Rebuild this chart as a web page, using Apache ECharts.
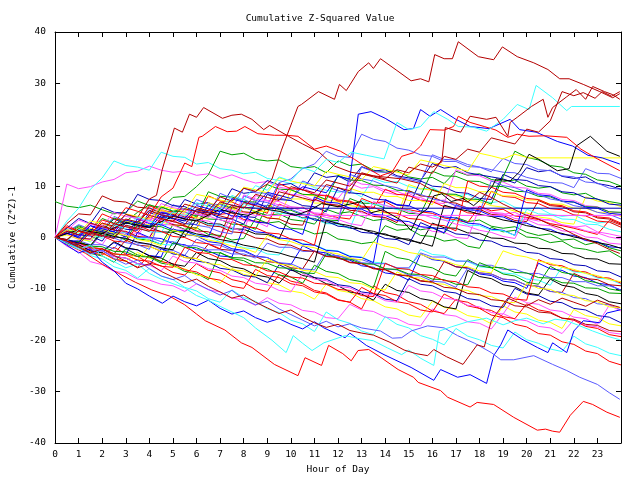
<!DOCTYPE html>
<html><head><meta charset="utf-8">
<script src="https://cdn.jsdelivr.net/npm/echarts/dist/echarts.min.js"></script>
<style>html,body{margin:0;padding:0;background:#fff}#c{width:640px;height:480px}</style>
</head><body><div id="c"></div>
<script>
// ---- axis ticks ----
const hourTicks = [0,1,2,3,4,5,6,7,8,9,10,11,12,13,14,15,16,17,18,19,20,21,22,23];
const valueTicks = [-40,-30,-20,-10,0,10,20,30,40];

// ---- series sampled every half hour (0 .. 24 h) ----
const f01 = [7,6.1,5.8,6.3,5.4,4.6,4.9,7.1,6.2,5.9,5.1,5.6,4.4,4.0,6.6,5.7,5.9,5.0,4.3,4.6,3.5,3.2,2.6,5.5,4.7,5.0,4.1,3.3,3.6,2.5,2.3,1.5,1.9,0.8,3.9,3.1,3.4,2.2,1.8,2.1,1.0,0.4,0.7,-0.5,-0.3,-1.4,-0.9,-2.0,-2.6];
const f02 = [0,10.4,9.5,9.9,10.8,11.3,12.6,12.9,13.9,13.1,12.7,12.9,12.1,12.4,11.5,12.2,11.3,10.6,10.9,9.8,9.4,9.7,8.5,8.2,7.6,10.5,9.6,9.9,8.8,8.3,8.6,7.4,7.0,7.3,6.1,5.7,6.0,4.8,4.5,4.9,3.7,3.2,3.6,2.4,2.0,2.3,1.1,0.7,0.2];
const f03 = [0,3.2,5.7,9.4,11.6,14.9,14.0,13.7,13.1,16.6,15.8,15.6,14.3,14.6,13.4,13.1,12.4,12.7,11.5,11.1,10.5,10.8,9.7,9.2,8.8,9.1,7.9,11.5,10.7,10.9,9.9,9.4,9.7,8.5,8.1,8.4,7.2,6.8,7.1,5.9,5.5,5.8,4.6,4.1,4.4,3.3,2.8,3.1,2.0];
const f04 = [0,1.1,2.3,1.4,3.7,2.8,3.1,4.9,6.4,5.5,7.8,8.0,9.9,12.2,16.8,16.1,16.4,15.2,14.9,15.1,13.8,13.5,13.8,12.6,14.9,14.0,14.3,13.1,12.7,13.0,11.8,11.4,11.7,10.5,12.9,12.1,12.4,11.3,10.9,11.2,10.0,9.6,9.9,8.7,8.3,8.6,7.4,7.0,6.6];
const f05 = [0,-0.8,1.9,1.0,1.3,3.6,2.7,3.0,5.3,4.4,4.1,7.4,6.5,6.8,5.6,9.5,8.6,8.9,11.1,10.2,10.5,9.2,12.6,11.7,12.0,10.8,13.8,12.9,13.2,12.0,11.6,11.1,14.4,13.5,13.8,12.6,12.2,11.8,11.4,10.6,13.6,12.8,13.1,11.9,11.5,11.8,10.5,10.1,9.4];
const f08 = [0,1.4,0.5,0.8,2.8,1.9,2.2,0.9,4.0,3.1,3.4,2.1,1.8,5.4,4.5,4.8,3.5,3.2,2.8,6.5,5.6,5.9,4.6,4.3,3.9,3.6,7.6,6.7,7.0,5.7,5.4,5.0,4.7,3.8,3.4,2.9,6.1,5.2,5.5,4.2,3.9,3.5,2.7,2.3,1.8,1.2,0.6,3.3,2.4];
const f09 = [0,-0.7,-0.9,-1.7,1.6,0.7,1.0,-0.3,-0.5,-1.3,2.5,1.6,1.9,0.6,0.4,-0.5,-0.2,3.7,2.8,3.1,1.8,1.6,0.7,1.0,-0.3,-0.6,-1.2,-0.9,2.3,1.4,1.7,0.4,0.2,-0.7,-0.4,-1.7,-2.1,2.0,1.1,1.4,0.1,-0.1,-1.0,-0.7,-2.0,-2.3,-2.9,-2.6,-3.9];
const f10 = [0,-0.9,-1.2,-2.3,-2.6,-1.0,-2.1,-2.4,-3.5,-3.8,1.7,0.6,0.3,-0.8,-1.1,-2.2,-2.5,-3.6,-3.9,-5.0,-5.3,-1.6,-2.7,-3.0,-4.1,-4.4,-5.5,-5.8,-6.9,-7.2,-8.3,-3.2,-4.3,-4.6,-5.7,-6.0,-7.1,-7.4,-8.5,-8.8,-9.9,-5.0,-6.1,-6.4,-7.5,-7.8,-8.9,-9.2,-10.3];
const f11 = [0,1.1,2.5,1.6,1.5,4.1,3.2,3.1,5.8,4.9,4.8,3.9,7.4,6.5,6.4,5.5,9.6,8.7,8.6,7.7,7.2,11.0,10.1,10.0,9.1,8.6,13.7,12.8,12.7,11.8,11.3,10.8,16.1,15.2,15.1,14.2,13.7,13.2,12.7,12.6,11.7,11.2,10.7,10.6,9.7,13.4,12.5,12.4,11.5];
const f12 = [0,-0.6,-0.7,1.8,1.0,1.1,0.2,0.3,-0.6,3.1,2.3,2.4,1.5,6.8,6.0,5.6,4.9,4.7,3.9,3.6,9.2,8.4,8.1,7.3,7.0,6.2,5.9,5.1,4.8,4.0,10.3,9.5,9.2,8.4,8.1,7.3,7.0,6.2,5.9,5.1,4.8,4.0,3.7,2.9,2.6,7.9,7.1,6.8,6.0];
const f13 = [0,-1.7,-2.8,-4.7,-5.3,-6.6,-6.9,-8.1,-8.3,-9.1,-9.4,-10.5,-9.0,-10.2,-10.6,-11.8,-12.1,-13.2,-11.7,-12.8,-13.1,-14.2,-14.5,-15.6,-15.8,-13.0,-14.1,-14.4,-15.5,-15.8,-16.9,-17.2,-13.9,-15.0,-15.3,-16.4,-16.7,-17.8,-14.8,-15.9,-16.2,-17.3,-17.6,-18.7,-16.0,-17.1,-17.4,-18.5,-18.8];
const f14 = [0,0.7,0.1,-0.9,2.1,1.1,0.9,-0.1,-0.3,-1.3,-1.5,1.4,0.4,0.2,-0.8,-1.0,-2.0,-2.2,-3.2,-3.4,-0.2,-1.2,-1.4,-2.4,-2.6,-3.6,-3.8,-4.8,-5.0,-6.0,-6.2,-2.3,-3.3,-3.5,-4.5,-4.7,-5.7,-5.9,-6.9,-7.1,-8.1,-8.3,-9.3,-5.7,-6.7,-6.9,-7.9,-8.1,-9.1];
const f15 = [0,-0.8,-1.0,-2.0,-2.2,-3.2,-0.5,-1.5,-1.7,-2.7,-2.9,-3.9,-4.1,-1.3,-2.3,-2.5,-3.5,-3.7,-4.7,-4.9,-5.9,-6.1,-2.6,-3.6,-3.8,-4.8,-5.0,-6.0,-6.2,-7.2,-7.4,-8.4,-8.6,-4.7,-5.7,-5.9,-6.9,-7.1,-8.1,-8.3,-9.3,-9.5,-10.5,-10.7,-7.0,-8.0,-8.2,-9.2,-9.4];
const f16 = [0,-0.7,1.8,0.9,0.8,-0.1,3.0,2.1,2.0,1.1,1.0,0.1,3.6,2.7,2.6,1.7,1.6,0.7,0.6,-0.3,4.7,3.8,3.7,2.8,2.7,1.8,1.7,0.8,0.7,-0.2,-0.3,-1.2,2.8,1.9,1.8,0.9,0.8,-0.1,-0.2,-1.1,-1.2,-2.1,-2.2,-3.1,-3.2,-4.1,-4.2,-5.1,-5.2];
const f17 = [0,-1.1,-1.6,-2.9,-3.4,-1.9,-3.2,-3.7,-5.0,-5.5,-6.8,-7.3,-5.1,-6.4,-6.9,-8.2,-8.7,-10.0,-10.5,-7.2,-8.5,-9.0,-10.3,-10.8,-12.1,-12.6,-13.9,-9.4,-10.7,-11.2,-12.5,-13.0,-14.3,-14.8,-12.0,-13.3,-13.8,-15.1,-15.6,-16.9,-17.4,-18.7,-19.0,-20.3,-20.8,-22.1,-22.6,-24.1,-24.8];
const f18 = [0,-0.8,-1.0,-2.0,1.1,0.1,-0.1,-1.1,-1.3,-2.3,-2.5,-3.5,-0.3,-1.3,-1.5,-2.5,-2.7,-3.7,-3.9,-4.9,-5.1,-6.1,-6.3,-2.7,-3.7,-3.9,-4.9,-5.1,-6.1,-6.3,-7.3,-7.5,-8.5,-8.7,-9.7,-5.9,-6.9,-7.1,-8.1,-8.3,-9.3,-9.5,-10.5,-10.7,-11.7,-11.9,-12.9,-13.1,-14.1];
const f19 = [0,-1.2,-1.8,-3.1,-3.6,-4.8,-2.2,-3.4,-3.8,-5.0,-5.4,-6.6,-7.0,-8.2,-2.9,-4.1,-4.5,-5.7,-6.1,-7.3,-7.7,-8.9,-5.4,-6.6,-7.0,-8.2,-8.6,-9.8,-2.7,-3.9,-4.3,-5.5,-5.9,-7.1,-7.5,-4.3,-5.5,-5.9,-7.1,-7.5,-8.7,-9.1,-5.6,-6.8,-7.2,-8.4,-8.8,-10.0,-10.4];
const f20 = [0,-1.0,-1.4,-2.6,-3.0,-4.2,-4.6,-2.9,-4.1,-4.5,-5.7,-6.1,-7.3,-7.7,-8.9,-6.0,-7.2,-7.6,-8.8,-9.2,-10.4,-10.8,-12.0,-9.1,-10.3,-10.7,-11.9,-12.3,-13.5,-13.9,-15.1,-15.5,-12.4,-13.6,-14.0,-15.2,-15.6,-16.8,-13.3,-14.5,-14.9,-16.1,-16.5,-17.7,-14.0,-15.2,-15.6,-16.8,-17.2];
const f21 = [0,1.5,0.5,0.3,-0.7,2.6,1.6,1.4,4.9,3.9,3.7,2.7,2.5,6.3,5.3,5.1,4.1,3.9,8.4,7.4,7.2,6.2,6.0,5.0,9.7,8.7,8.5,7.5,7.3,6.3,6.1,11.0,10.0,9.8,8.8,8.6,7.6,7.4,12.3,11.3,11.1,10.1,9.9,8.9,8.7,7.7,7.5,6.5,6.3];
const f22 = [0,0.8,-0.2,-0.4,-1.4,2.0,1.0,0.8,-0.2,5.6,4.6,4.4,3.4,3.2,2.2,2.0,1.0,8.2,7.2,7.0,6.0,5.8,4.8,4.6,3.6,11.4,10.4,10.2,9.2,9.0,8.0,7.8,6.8,6.6,13.2,12.2,12.0,11.0,10.8,9.8,9.6,8.6,8.4,7.4,7.2,6.2,6.0,5.0,4.8];
const f23 = [0,2.3,1.3,1.1,4.6,3.6,3.4,2.4,6.2,5.2,5.0,4.0,3.8,8.1,7.1,6.9,5.9,5.7,4.7,10.5,9.5,9.3,8.3,8.1,7.1,6.9,5.9,5.7,9.4,8.4,8.2,7.2,7.0,6.0,5.8,4.8,4.6,9.0,8.0,7.8,6.8,6.6,5.6,5.4,4.4,4.2,3.2,3.0,2.0];
const f24 = [0,-1.3,-2.0,-3.5,-4.2,-5.7,-6.4,-7.9,-6.0,-7.5,-8.2,-9.7,-10.4,-11.9,-12.6,-10.2,-11.7,-12.4,-13.9,-14.6,-16.1,-16.8,-18.3,-14.5,-16.0,-16.7,-18.2,-18.9,-15.4,-16.9,-17.6,-19.1,-19.8,-20.9,-17.7,-19.2,-19.9,-21.0,-21.5,-18.4,-19.9,-20.6,-21.7,-22.2,-19.2,-20.7,-21.4,-22.5,-23.0];
const f25 = [0,0.7,2.1,1.2,1.1,3.8,2.9,2.8,1.9,6.0,5.1,5.0,4.1,8.9,8.0,7.9,7.0,6.9,10.3,9.4,9.3,8.4,8.3,7.4,12.1,11.2,11.1,10.2,10.1,9.2,9.1,8.2,12.9,12.0,11.9,11.0,10.9,10.0,9.9,9.0,8.9,8.0,7.9,7.0,6.9,6.0,5.9,5.0,4.9];
const f26 = [0,-0.7,-0.8,1.4,0.5,0.4,-0.5,3.1,2.2,2.1,1.2,1.1,4.5,3.6,3.5,2.6,2.5,1.6,6.3,5.4,5.3,4.4,4.3,3.4,3.3,7.6,6.7,6.6,5.7,5.6,4.7,4.6,9.4,8.5,8.4,7.5,7.4,6.5,11.8,16.8,15.6,15.1,14.0,13.7,12.6,12.3,11.2,10.9,10.0];
const f27 = [0,-0.9,-1.2,-2.3,-2.6,-3.7,-4.0,-5.1,-5.4,-2.1,-3.2,-3.5,-4.6,-4.9,-6.0,-6.3,-7.4,-7.7,-8.8,-5.3,-6.4,-6.7,-7.8,-8.1,-9.2,-9.5,-10.6,-10.9,-12.0,-12.3,-8.0,-9.1,-9.4,-10.5,-10.8,-11.9,-12.2,-13.3,-13.6,-9.9,-11.0,-11.3,-12.4,-12.7,-13.8,-14.1,-15.2,-15.5,-16.6];
const f28 = [0,1.2,0.2,2.9,1.9,1.7,4.5,3.5,3.3,2.3,6.4,5.4,5.2,4.2,8.6,7.6,7.4,6.4,6.2,10.7,11.4,13.4,14.3,16.8,15.8,15.6,20.1,19.1,18.7,17.4,17.0,16.1,15.8,14.8,14.8,13.8,13.7,12.8,15.4,14.4,14.2,13.2,13.0,12.0,11.8,10.8,10.6,9.6,9.4];
const f30 = [0,0.6,-0.4,2.7,1.7,1.5,0.5,0.3,3.6,2.6,2.4,1.4,1.2,0.2,0.0,4.3,3.3,3.1,2.1,9.4,8.4,8.2,7.2,7.0,6.0,5.8,4.8,4.6,3.6,3.4,2.4,2.2,1.2,1.0,0.0,-0.2,5.9,4.9,4.7,3.7,3.5,2.5,2.3,1.3,1.1,0.1,-0.1,-1.1,-1.3];
const f31 = [0,-0.5,1.9,1.1,1.1,0.3,3.3,2.5,2.5,5.4,4.6,4.6,3.8,3.8,6.7,5.9,5.9,5.1,5.1,8.3,7.5,7.5,6.7,6.7,5.9,9.6,8.8,8.8,8.0,8.0,7.2,7.2,6.4,10.5,9.7,9.7,8.9,8.9,8.1,8.1,7.3,7.3,6.5,6.5,5.7,5.7,4.9,4.9,4.1];
const f32 = [0,-0.7,-1.3,-2.6,-3.0,-4.2,-4.6,-5.8,-3.5,-4.7,-5.1,-6.3,-6.7,-7.9,-8.3,-9.5,-9.9,-6.2,-7.4,-7.8,-9.0,-9.4,-10.6,-11.0,-12.2,-12.6,-9.7,-10.9,-11.3,-12.5,-12.9,-14.1,-14.5,-11.0,-12.2,-12.6,-13.8,-14.2,-15.4,-15.8,-12.9,-14.1,-14.5,-15.7,-16.1,-17.3,-17.7,-18.9,-19.3];
const f33 = [0,0.9,-0.1,-0.3,2.4,1.4,1.2,0.2,0.0,3.5,2.5,2.3,1.3,1.1,0.1,6.0,5.0,4.8,3.8,3.6,2.6,2.4,7.5,6.5,6.3,5.3,5.1,4.1,3.9,2.9,9.1,8.1,7.9,6.9,6.7,5.7,5.5,4.5,4.3,3.3,3.1,7.2,6.2,6.0,5.0,4.8,3.8,3.6,2.6];
const f34 = [0,-0.8,-1.0,-2.0,-2.2,-3.2,-3.4,1.0,0.0,-0.2,-1.2,-1.4,-2.4,-2.6,-3.6,-3.8,2.1,1.1,0.9,-0.1,-0.3,-1.3,-1.5,-2.5,-2.7,-3.7,-3.9,-4.9,7.4,6.4,6.2,5.2,5.0,4.0,3.8,2.8,2.6,1.6,1.4,0.4,9.3,8.3,8.1,7.1,6.9,5.9,5.7,4.7,4.5];
const f35 = [0,-0.6,-0.6,-1.4,-1.4,-2.2,0.8,0.0,0.0,-0.8,-0.8,-1.6,-1.6,-2.4,-2.4,-3.2,-3.2,-4.0,-1.1,-1.9,-1.9,-2.7,-2.7,-3.5,-3.5,-4.3,-4.3,-5.1,-5.1,-5.9,-5.9,-3.0,-3.8,-3.8,-4.6,-4.6,-5.4,-5.4,-6.2,-6.2,-7.0,-7.0,-7.8,-7.8,-8.6,-8.6,-9.4,-9.4,-10.2];
const f36 = [0,1.7,0.8,0.7,-0.2,3.0,2.1,2.0,1.1,1.0,4.4,3.5,3.4,2.5,2.4,1.5,6.6,5.7,5.6,4.7,4.6,3.7,3.6,2.7,2.6,1.7,7.3,6.4,6.3,5.4,5.3,4.4,4.3,3.4,3.3,2.4,2.3,1.4,1.3,0.4,5.5,4.6,4.5,3.6,3.5,2.6,2.5,1.6,1.1];
const f37 = [0,-1.0,-1.4,-2.6,-3.0,-0.8,-2.0,-2.4,-3.6,-4.0,-5.2,-5.6,-2.9,-4.1,-4.5,-5.7,-6.1,-7.3,-7.7,-8.9,-6.2,-7.4,-7.8,-9.0,-9.4,-10.6,-11.0,-12.2,-9.1,-10.3,-10.7,-11.9,-12.3,-13.5,-13.9,-6.4,-7.6,-8.0,-9.2,-9.6,-10.8,-11.2,-8.1,-9.3,-9.7,-10.9,-11.3,-12.5,-12.9];
const f38 = [0,-0.9,-1.2,-2.3,-2.6,-3.7,-4.0,-5.1,-5.4,-6.5,-3.6,-4.7,-5.0,-6.1,-6.4,-7.5,-7.8,-8.9,-9.2,-10.3,-10.6,-7.0,-8.1,-8.4,-9.5,-9.8,-10.9,-11.2,-12.3,-12.6,-9.3,-10.4,-10.7,-11.8,-12.1,-13.2,-13.5,-14.6,-14.9,-11.6,-12.7,-13.0,-14.1,-14.4,-15.5,-15.8,-16.9,-13.2,-14.3];
const f39 = [0,-0.7,-0.8,-1.7,-1.8,-2.7,-2.8,-3.7,-3.8,-4.7,-1.0,-1.9,-2.0,-2.9,-3.0,-3.9,-4.0,-4.9,-5.0,-5.9,-6.0,-6.9,-7.0,-3.2,-4.1,-4.2,-5.1,-5.2,-6.1,-6.2,-7.1,-7.2,-8.1,-8.2,-9.1,-9.2,-4.9,-5.8,-5.9,-6.8,-6.9,-7.8,-7.9,-8.8,-8.9,-9.8,-9.9,-10.8,-10.9];
const f40 = [0,-0.8,-1.0,-2.0,-2.2,-3.2,-3.4,-4.4,-1.7,-2.7,-2.9,-3.9,-4.1,-5.1,-5.3,-6.3,-6.5,-7.5,-4.2,-5.2,-5.4,-6.4,-6.6,-7.6,-7.8,-8.8,-9.0,-10.0,-10.2,-6.7,-7.7,-7.9,-8.9,-9.1,-10.1,-10.3,-11.3,-11.5,-12.5,-12.7,-8.9,-9.9,-10.1,-11.1,-11.3,-12.3,-12.5,-13.5,-13.7];
const f41 = [0,-0.8,-1.0,-2.0,-2.2,-3.2,-3.4,-4.4,-4.6,-5.6,-5.8,-1.9,-2.9,-3.1,-4.1,-4.3,-5.3,-5.5,-6.5,-6.7,-7.7,-7.9,-8.9,-9.1,-10.1,-10.3,-11.3,-11.5,-5.0,-6.0,-6.2,-7.2,-7.4,-8.4,-8.6,-9.6,-9.8,-10.8,-11.0,-12.0,-12.2,-4.3,-5.3,-5.5,-6.5,-6.7,-7.7,-7.9,-8.9];
const f42 = [0,1.8,3.7,2.7,5.9,4.9,4.7,8.4,7.4,7.2,6.2,6.0,5.0,4.8,3.8,3.6,2.6,6.8,5.8,5.6,4.6,4.4,3.4,3.2,2.2,2.0,1.0,0.8,-0.2,-0.4,-1.4,2.9,1.9,1.7,0.7,0.5,-0.5,-0.7,-1.7,-1.9,-2.9,-3.1,-4.1,-4.3,-5.3,-5.5,-6.5,-6.7,-7.7];
const f43 = [0,2.7,4.6,4.4,8.1,7.1,6.9,5.9,5.7,4.7,4.5,3.5,3.3,2.3,2.1,1.1,0.9,-0.1,-0.3,-1.3,-1.5,-2.5,-2.7,-3.7,-3.9,-4.9,-5.1,-6.1,-6.3,-7.3,-7.5,-8.5,-8.7,-9.7,-9.9,-10.9,-11.1,-12.1,-12.3,-13.3,-13.5,-14.5,-14.7,-15.7,-15.9,-16.9,-17.1,-18.1,-18.3];
const f44 = [0,0.9,-0.1,2.3,1.3,1.1,0.1,3.7,2.7,2.5,1.5,1.3,0.3,0.1,5.2,4.2,4.0,3.0,2.8,1.8,1.6,0.6,7.9,6.9,6.7,5.7,5.5,4.5,4.3,3.3,3.1,2.1,1.9,0.9,6.4,5.4,5.2,4.2,4.0,3.0,2.8,1.8,1.6,0.6,0.4,-0.6,-0.8,-1.8,-2.0];
const f45 = [0,-0.6,1.5,0.5,0.3,-0.7,-0.9,2.4,1.4,1.2,0.2,0.0,-1.0,-1.2,-2.2,3.1,2.1,1.9,0.9,0.7,-0.3,-0.5,-1.5,8.3,7.3,7.1,6.1,5.9,4.9,4.7,3.7,3.5,2.5,2.3,1.3,11.0,10.0,9.8,8.8,8.6,7.6,7.4,6.4,6.2,5.2,5.0,4.0,3.8,2.8];
const f46 = [0,-0.9,-1.3,1.2,0.3,-0.1,-1.0,-1.4,-2.3,4.6,3.7,3.3,2.4,2.0,1.1,0.7,8.1,7.2,6.8,5.9,5.5,4.6,4.2,3.3,2.9,12.3,11.4,11.0,10.1,9.7,8.8,8.4,7.5,7.1,6.2,5.8,4.9,11.0,10.1,9.7,8.8,8.4,7.5,7.1,6.2,5.8,4.9,4.5,3.6];
const f47 = [0,0.5,-0.3,-0.7,1.6,0.8,0.4,-0.4,-0.8,-1.6,1.5,0.7,0.3,-0.5,-0.9,-1.7,-2.1,-2.9,0.4,-0.4,-0.8,-1.6,-2.0,-2.8,-3.2,-4.0,-4.4,-0.9,-1.7,-2.1,-2.9,-3.3,-4.1,-4.5,-5.3,-5.7,-6.5,-6.9,-2.6,-3.4,-3.8,-4.6,-5.0,-5.8,-6.2,-7.0,-7.4,-8.2,-8.6];
const f48 = [0,1.3,3.4,2.6,2.2,4.9,4.1,3.7,2.9,6.6,5.8,5.4,4.6,4.2,3.4,3.0,8.3,7.5,7.1,6.3,5.9,5.1,4.7,3.9,3.5,2.7,2.3,7.0,6.2,5.8,5.0,4.6,3.8,3.4,2.6,2.2,1.4,1.0,0.2,-0.2,4.5,3.7,3.3,2.5,2.1,1.3,0.9,0.1,-0.3];
const f49 = [0,-0.4,-1.1,-1.5,0.9,0.2,-0.2,-0.9,-1.3,-2.0,-2.4,1.4,0.7,0.3,-0.4,-0.8,-1.5,-1.9,-2.6,-3.0,-3.7,-4.1,-4.8,3.4,2.7,2.3,1.6,1.2,0.5,0.1,-0.6,-1.0,-1.7,6.3,5.6,5.2,4.5,4.1,3.4,3.0,2.3,1.9,1.2,0.8,0.1,-0.3,-1.0,-1.4,-2.1];

// ---- series read at irregular [hour, value] vertices ----
const navyFlat = [[0,0],[0.5,-0.5],[1,-1],[1.5,1.6],[2,1.1],[2.5,0.6],[3,2.9],[3.5,2.4],[4,1.9],[4.5,4.2],[5,3.7],[5.5,3.2],[6,5.5],[6.5,5],[7,4.5],[7.5,6.3],[8,5.8],[8.5,5.7],[24,5.7]];
const magentaFlat = [[0,0],[0.5,-0.6],[1,1.4],[1.5,0.9],[2,0.3],[2.5,2.6],[3,2.1],[3.5,1.5],[4,3.8],[4.5,3.3],[5,2.7],[5.5,5],[6,4.5],[6.5,3.9],[7,5.9],[7.5,5.3],[8,4.8],[8.5,4.3],[24,4.3]];
const yellowFlat = [[0,0],[0.5,1.5],[1,1],[1.5,3.2],[2,2.7],[2.5,2.2],[3,4.6],[3.5,4.1],[4,3.6],[4.5,6.1],[5,5.6],[5.5,5],[6,8.4],[6.5,7.9],[7,7.3],[7.5,6.8],[8,9.8],[8.5,9.3],[9,8.7],[9.5,11.6],[10,11],[10.5,10.5],[11,10],[11.5,12.9],[12,12.3],[12.5,11.8],[13,11.2],[13.5,13.8],[14,13.3],[14.5,12.7],[15,12.2],[15.5,15.1],[16,14.6],[16.5,14],[17,13.5],[17.5,12.9],[18,16.4],[18.5,15.9],[19,15.3],[19.5,16.2],[20.1,15.5],[24,15.5]];
const blueJump = [[0,0],[0.5,0.8],[1,0.2],[1.5,2.3],[2,1.7],[2.5,1.1],[3,3.4],[3.5,2.8],[4,2.2],[4.5,4.9],[5,4.3],[5.5,3.7],[6,6.2],[6.5,5.6],[7,5],[7.5,7.5],[8,6.9],[8.5,6.3],[9,8.8],[9.5,8.2],[10,7.6],[10.5,9.9],[11,9.3],[11.5,8.7],[12,11.9],[12.5,11.4],[12.86,24],[13.4,24.5],[14,23.2],[14.8,21],[15.2,21.2],[15.5,24.9],[15.9,23.6],[16.35,24.9],[17,23],[17.6,21.6],[18.4,21.2],[19.3,23],[19.7,21],[20.4,20.5],[21.3,18.7],[21.95,17.8],[22.6,16],[23.2,15.5],[23.95,14.3]];
const blackMid = [[0,0],[1,1.5],[2,0.8],[3,2.9],[4,2],[5,4.1],[6,3.2],[7,5.5],[7.5,4.8],[8.2,4.3],[8.8,5.6],[9.5,5.1],[10.2,4.3],[10.8,5.3],[11.3,6.6],[12,6],[13,7],[13.4,4.8],[13.9,5.4],[14.7,3.3],[15.1,1.4],[15.4,4.3],[15.8,5.6],[16.06,8.1],[16.4,8.5],[16.8,7],[17.3,7.6],[17.75,6.2],[18,7.2],[18.55,10],[18.7,11.4],[19.3,11],[19.7,12.8],[20.1,16.2],[20.6,15],[21.3,13],[21.8,13.4],[22.1,17.8],[22.7,19.7],[23.4,16.8],[23.95,15.8]];
const darkRedPeak = [[0,0],[0.5,1.2],[1,0.5],[1.5,2.8],[2,2.1],[2.5,1.5],[3,3.6],[3.5,3],[4,5.2],[4.5,4.4],[5,3.9],[5.5,6.5],[6,5.8],[6.5,5.2],[7,7.9],[7.5,7.1],[8,9.6],[8.5,9],[9,10.4],[9.2,11.4],[9.6,17],[10.3,25.5],[10.45,25.9],[11.17,28.4],[11.85,26.9],[12.06,29.8],[12.35,28.6],[12.86,32.3],[13.3,34],[13.5,32.9],[13.8,34.8],[14.5,32.5],[15.1,30.5],[15.5,30.9],[15.85,30.3],[16.1,35.6],[16.5,34.8],[16.85,34.8],[17.1,38.1],[17.95,35.2],[18.6,34.6],[18.97,37.1],[19.6,35.2],[20.3,34],[20.9,32.7],[21.4,30.9],[21.8,30.9],[22.4,29.8],[23.1,28.4],[23.65,27.2],[23.95,28]];
const darkRedEarly = [[0,0],[0.5,-0.6],[1,1.5],[1.5,0.9],[2,2.8],[2.5,2.2],[3,4.5],[3.5,3.9],[4,7.5],[4.3,8.2],[4.55,13.3],[5.06,21.3],[5.4,20.5],[5.7,24],[6,23.4],[6.3,25.3],[7.1,23.2],[7.5,23.8],[7.9,24],[8.35,23],[8.85,21],[9.1,21.8],[9.9,19.7],[10.5,18.2],[11.2,16.6],[11.85,13.9],[12.55,12.7],[13.5,12],[14.7,11.4],[15.5,10.5],[16,9.2],[16.5,8.6],[17,7.4],[17.5,6.9],[18,8.8],[18.5,7.8],[19,6.5],[19.5,5.4],[20,4.3],[20.5,3.6],[21,2.5],[21.5,1.8],[22,0.6],[22.5,-0.4],[23,-1.2],[23.5,-2.3],[23.95,-3.1]];
const darkRedLate1 = [[0,0],[0.5,-0.4],[1,1.3],[1.5,0.8],[2,0.2],[2.5,2.7],[3,2.1],[3.5,1.6],[4,4.3],[4.5,3.7],[5,3.1],[5.5,5.6],[6,5],[6.5,4.4],[7,6.9],[7.5,6.3],[8,5.7],[8.5,8.4],[9,7.8],[9.5,7.2],[10,9.9],[10.5,9.3],[11,8.7],[11.5,11.2],[12,10.6],[12.5,10],[13,12.6],[13.5,12],[14,11.4],[14.5,13.2],[15,12.6],[15.5,14.3],[16,13.7],[16.4,14.7],[16.55,21.4],[17.2,20.5],[17.6,23.6],[18.3,23],[18.7,23.4],[19.2,19.7],[19.3,22.4],[19.6,23.4],[20.2,25.5],[20.7,26.9],[20.9,23.4],[21.1,25.3],[21.7,27.4],[22.1,28.8],[22.5,26.9],[22.8,29.4],[23.3,28.4],[23.65,27.8],[23.95,26.9]];
const darkRedLate2 = [[0,0],[0.5,-0.7],[1,-1.3],[1.5,1],[2,0.4],[2.5,-0.2],[3,2.4],[3.5,1.8],[4,1.2],[4.5,3.7],[5,3.1],[5.5,2.5],[6,5.4],[6.5,4.8],[7,4.2],[7.5,3.6],[8,6.8],[8.5,6.2],[9,5.6],[9.5,8.9],[10,8.3],[10.5,7.7],[11,7.1],[11.5,10.3],[12,9.7],[12.5,9.1],[13,12.4],[13.5,11.8],[14,11.2],[14.5,10.6],[15,13.7],[15.5,13.1],[16,12.5],[16.5,15.8],[17,15.2],[17.5,17.2],[18,16.6],[18.5,19.4],[19,18.8],[19.5,18.2],[20,21.1],[20.5,20.5],[21,22.7],[21.5,28.4],[22,27.6],[22.4,28.2],[22.9,27.1],[23.2,28.4],[23.6,27.5],[23.95,28.4]];
const redUpper = [[0,0],[0.5,2],[1,1.2],[1.5,0.5],[2,3.4],[2.5,2.7],[3,5.8],[3.5,5.1],[4,4.3],[4.5,7.9],[5,9.6],[5.5,14.5],[5.8,13.8],[6.1,19.5],[6.24,19.7],[6.8,21.6],[7.3,20.6],[7.7,20.7],[8.05,21.6],[8.6,20.2],[9.3,19.9],[9.8,19.9],[10.3,19.7],[11,17.2],[11.5,17.8],[12.1,16.8],[12.7,15.2],[13.3,13.4],[13.8,12],[14.3,12.8],[14.7,15.8],[15.2,16.5],[15.5,17.8],[15.9,21],[16.5,20.9],[16.9,21.6],[17.1,23.6],[17.6,22.4],[18.2,21.6],[18.7,20.9],[19.2,19.5],[19.6,20.1],[20.1,19.7],[20.8,19.8],[21.7,19.5],[22.3,17.2],[23,15.3],[23.95,13]];
const cyanUpper = [[0,0],[0.5,-0.8],[1,1.6],[1.5,0.8],[2,0.1],[2.5,2.5],[3,1.7],[3.5,4],[4,3.2],[4.5,2.6],[5,5],[5.5,4.2],[6,6.8],[6.5,6.1],[7,5.4],[7.5,8.2],[8,7.3],[8.5,10.1],[9,9.2],[9.5,11.8],[10,11],[10.5,13.6],[11,12.8],[11.5,15.2],[12,14.6],[12.56,16.6],[13.2,16],[13.95,15.3],[14.5,22.4],[15,21],[15.5,21.6],[16.06,24.5],[16.65,23],[17.1,21.6],[17.7,21.5],[18.3,20.7],[19,23],[19.6,25.9],[20.1,24.9],[20.4,29.6],[21.1,27.2],[21.7,24.7],[21.9,25.5],[23.95,25.5]];
const redLowest = [[0,0],[0.5,-1.3],[1,-2.4],[1.3,-3.1],[2,-5.2],[2.7,-7],[3.4,-8.7],[4.1,-10.2],[4.85,-11.4],[5.5,-13.1],[6,-14.9],[6.37,-16.2],[7.2,-18],[7.9,-20.5],[8.35,-21.4],[9.3,-24.7],[10.3,-26.9],[10.6,-23.4],[11.3,-24.9],[11.6,-21],[12.2,-22.6],[12.56,-24],[12.85,-22],[13.3,-21.8],[13.83,-23.4],[14.55,-25.7],[15.2,-27.2],[15.4,-28.2],[16.35,-29.8],[16.65,-31.1],[17.6,-33],[17.9,-32.1],[18.6,-32.5],[19.45,-35],[20.45,-37.5],[20.8,-37.3],[21.1,-37.7],[21.4,-37.9],[21.85,-34.6],[22.4,-31.9],[22.8,-32.5],[23.4,-34],[23.95,-35]];
const blueLow = [[0,0],[0.5,-1.5],[1,-3],[1.5,-2.2],[2,-4.8],[2.5,-6.5],[3,-8.9],[3.5,-10],[4,-11.4],[4.55,-12.8],[5,-11.4],[5.5,-12.5],[6,-13.3],[6.5,-12.2],[7,-13.8],[7.5,-14.9],[8,-14.3],[8.5,-15.6],[9,-16.5],[9.5,-15.8],[10,-16.9],[10.5,-17.8],[11,-16.4],[11.4,-17.6],[12.3,-19.5],[12.5,-18.6],[13.2,-21],[13.95,-22.8],[15.1,-25.3],[16.06,-27.8],[16.35,-25.7],[17.07,-27.2],[17.6,-26.7],[18.3,-28.4],[18.6,-23],[18.9,-20.9],[19.2,-18],[19.8,-19.8],[20.45,-21.4],[20.9,-22.4],[21.1,-20.5],[21.7,-22.4],[22,-18.2],[22.4,-16.2],[23.1,-16.6],[23.4,-14.7],[23.95,-14.1]];
const lightBlueLow = [[0,0],[0.5,-0.9],[1,-2],[1.5,-3.2],[2,-2.5],[2.5,-4.1],[3,-5.2],[3.5,-4.4],[4,-6.1],[4.5,-7.5],[5,-8.2],[5.5,-7.4],[6,-9],[6.5,-10.1],[7,-11.2],[7.5,-10.3],[8,-12],[8.5,-13.1],[9,-12.4],[9.5,-13.9],[10,-15],[10.5,-16.1],[11,-17.2],[11.5,-16.3],[12,-17.4],[12.5,-16.8],[13,-17.6],[13.8,-18.2],[14.3,-19.6],[14.7,-19.5],[15.1,-18.2],[15.8,-17.2],[16.5,-17.6],[17.07,-19.1],[17.8,-20.6],[18.5,-22.4],[18.9,-23.8],[19.45,-23.8],[20.3,-23],[21.1,-24.7],[21.7,-25.9],[22.25,-27.2],[23,-28.6],[23.5,-30.2],[23.95,-31.5]];
const cyanLow = [[0,0],[0.5,-1.2],[1,-2.3],[1.5,-1.5],[2,-3.6],[2.5,-4.7],[3,-5.9],[3.5,-5.2],[4,-7],[4.5,-8.1],[5,-9],[5.5,-9.8],[6,-11.3],[6.5,-12.2],[7,-13.4],[7.5,-14.5],[8,-15.6],[8.5,-17.6],[9.2,-20],[9.8,-22.4],[10.1,-19.1],[10.5,-20.6],[10.9,-22],[11.4,-20.5],[12.3,-19.1],[12.8,-19.6],[13.5,-20.1],[14.1,-21.5],[14.7,-22.8],[15,-21.9],[15.5,-23.5],[16.06,-24.9],[16.3,-18.2],[16.8,-17.4],[17.5,-16.4],[18.3,-15.7],[19,-17],[19.5,-16.2],[20,-15.7],[20.7,-16.8],[21.2,-15.9],[21.7,-16.2],[22.2,-17.1],[22.8,-18.2],[23.4,-19.2],[23.95,-19.9]];
const darkRedLow = [[0,0],[0.5,-0.7],[1,-1.9],[1.5,-3],[2,-2.2],[2.5,-3.5],[3,-4.6],[3.5,-5.9],[4,-5.1],[4.5,-6.6],[5,-7.7],[5.5,-8.8],[6,-8.1],[6.5,-9.5],[7,-10.6],[7.5,-11.8],[8,-11.2],[8.5,-12.6],[9,-13.7],[9.5,-14.8],[10,-14.1],[10.5,-15.5],[11,-16.6],[11.5,-17.5],[12,-16.9],[12.5,-18.1],[13,-18.6],[13.5,-19],[14.2,-20.4],[14.8,-21.9],[15.3,-22.6],[15.8,-23],[16.06,-21.8],[16.6,-23.2],[17.3,-24.7],[17.9,-20.9],[18.2,-21.3],[18.5,-16.2],[19.2,-11.8],[19.6,-12.6],[20,-13.3],[20.5,-12.1],[21,-13],[21.5,-11.8],[22,-12.6],[22.5,-13.4],[23,-12.2],[23.5,-13],[23.95,-13.6]];

// ---- colours ----
const RED='#ff0000', DRED='#b40000', GREEN='#00a000', BLUE='#0000ff', NAVY='#0000b4',
      LBLUE='#5a5aff', CYAN='#3cffff', MAG='#ff50ff', YEL='#ffff00', BLK='#000000';

const halfHourSeries = [
  [f01,GREEN],[f02,MAG],[f03,CYAN],[f04,GREEN],[f05,NAVY],[f08,RED],[f09,GREEN],[f10,BLUE],
  [f11,LBLUE],[f12,YEL],[f13,MAG],[f14,CYAN],[f15,DRED],[f16,BLK],[f17,RED],[f18,LBLUE],
  [f19,GREEN],[f20,YEL],[f21,NAVY],[f22,MAG],[f23,RED],[f24,CYAN],[f25,GREEN],[f26,GREEN],
  [f27,NAVY],[f28,LBLUE],[f30,MAG],[f31,YEL],[f32,RED],[f33,DRED],[f34,BLUE],[f35,LBLUE],
  [f36,CYAN],[f37,BLK],[f38,MAG],[f39,GREEN],[f40,YEL],[f41,RED],[f42,NAVY],[f43,DRED],
  [f44,BLUE],[f45,RED],[f46,LBLUE],[f47,YEL],[f48,MAG],[f49,BLK]
];
const vertexSeries = [
  [navyFlat,NAVY],[magentaFlat,MAG],[yellowFlat,YEL],[blueJump,BLUE],[blackMid,BLK],
  [darkRedEarly,DRED],[redUpper,RED],[cyanUpper,CYAN],[darkRedLate1,DRED],[darkRedLate2,DRED],
  [darkRedPeak,DRED],[redLowest,RED],[blueLow,BLUE],[lightBlueLow,LBLUE],[cyanLow,CYAN],[darkRedLow,DRED]
];

const series = [];
halfHourSeries.forEach(([vals,col]) => {
  series.push({type:'line', data: vals.map((v,i)=>[i*24/(vals.length-1), v]), symbol:'none',
    lineStyle:{color:col,width:1}, silent:true, animation:false});
});
vertexSeries.forEach(([pts,col]) => {
  series.push({type:'line', data: pts, symbol:'none', lineStyle:{color:col,width:1}, silent:true, animation:false});
});

const FONT = 'DejaVu Sans Mono';
const txt = {color:'#000', fontFamily:FONT, fontSize:9.5};
const axisLineStyle = {show:true, onZero:false, lineStyle:{color:'#000', width:1}};
const tickStyle = {show:true, inside:true, length:5, lineStyle:{color:'#000'}};
const chart = echarts.init(document.getElementById('c'), null, {renderer:'canvas'});
chart.setOption({
  animation:false,
  backgroundColor:'#fff',
  title:{text:'Cumulative Z-Squared Value', left:'center', top:9,
    textStyle:{color:'#000', fontFamily:FONT, fontSize:9.5, fontWeight:'normal'}},
  grid:{left:52, right:19, top:32, bottom:34, show:false},
  xAxis:[
    {type:'value', min:0, max:24, interval:1, position:'bottom',
     name:'Hour of Day', nameLocation:'middle', nameGap:22, nameTextStyle:txt,
     axisLine:axisLineStyle, axisTick:tickStyle,
     axisLabel:{...txt, margin:7, formatter:v=> hourTicks.includes(v) ? String(v) : ''},
     splitLine:{show:false}},
    {type:'value', min:0, max:24, interval:1, position:'top',
     axisLine:axisLineStyle, axisTick:tickStyle,
     axisLabel:{show:false}, splitLine:{show:false}}
  ],
  yAxis:[
    {type:'value', min:-40, max:40, interval:10, position:'left',
     name:'Cumulative (Z*Z)-1', nameLocation:'middle', nameGap:37, nameTextStyle:txt,
     axisLine:axisLineStyle, axisTick:tickStyle,
     axisLabel:{...txt, margin:9, formatter:v=> valueTicks.includes(v) ? String(v) : ''},
     splitLine:{show:false}},
    {type:'value', min:-40, max:40, interval:10, position:'right',
     axisLine:axisLineStyle, axisTick:tickStyle,
     axisLabel:{show:false}, splitLine:{show:false}}
  ],
  series: series
});
</script></body></html>
